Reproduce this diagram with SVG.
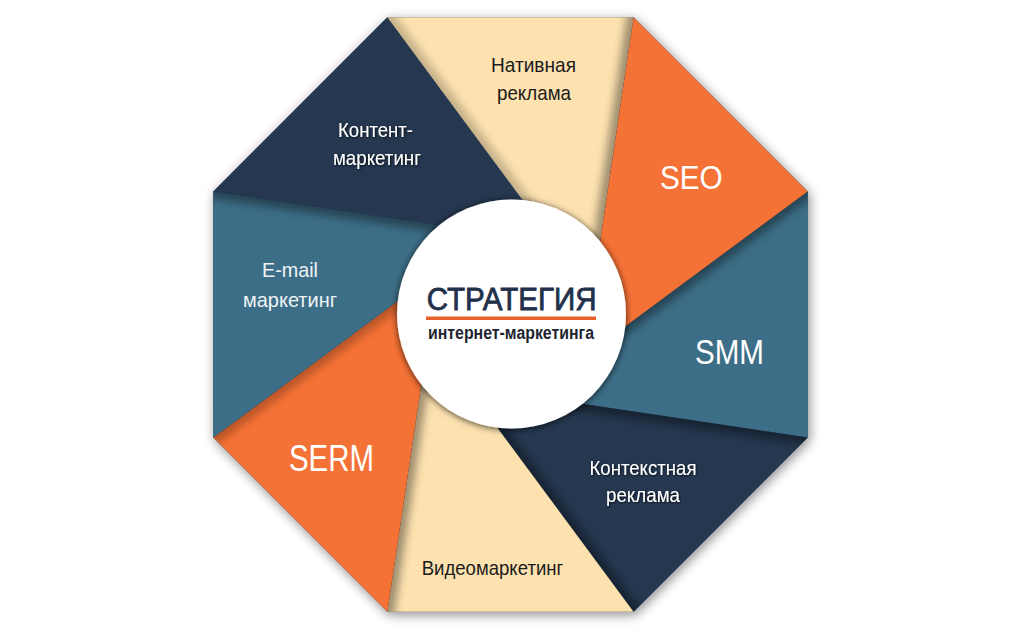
<svg xmlns="http://www.w3.org/2000/svg" width="1024" height="632" viewBox="0 0 1024 632">
<defs>
<style>
.lbl{font-family:"Liberation Sans",Arial,sans-serif;text-anchor:middle}
.sm{font-size:21px}
.big{font-size:35px}
.w{fill:#ffffff}
.d{fill:#1b1b1b}
.nv{fill:#253850}
.tl{fill:#3D6E87}
.or{fill:#F57236}
.bg{fill:#FDE2B0}
.sh{stroke:#000;stroke-width:14;stroke-linecap:round;opacity:0.38;fill:none}
</style>
<filter id="octShadow" filterUnits="userSpaceOnUse" x="0" y="0" width="1024" height="632">
<feDropShadow dx="2" dy="3" stdDeviation="6" flood-color="#000" flood-opacity="0.45"/>
</filter>
<filter id="blur" filterUnits="userSpaceOnUse" x="0" y="0" width="1024" height="632">
<feGaussianBlur stdDeviation="4.5"/>
</filter>
<filter id="circShadow" filterUnits="userSpaceOnUse" x="0" y="0" width="1024" height="632">
<feDropShadow dx="0" dy="1" stdDeviation="3.5" flood-color="#000" flood-opacity="0.75"/>
</filter>
<filter id="txtShadow" x="-10%" y="-30%" width="120%" height="160%">
<feDropShadow dx="0.8" dy="0.8" stdDeviation="0.8" flood-color="#000" flood-opacity="0.85"/>
</filter>
<clipPath id="cSMM"><polygon points="807.7,191.4 807.7,437.6 530.9,396.2"/></clipPath>
<clipPath id="cKR"><polygon points="807.7,437.6 633.6,611.7 467.1,386.7"/></clipPath>
<clipPath id="cVM"><polygon points="633.6,611.7 387.4,611.7 428.8,334.9"/></clipPath>
<clipPath id="cSERM"><polygon points="387.4,611.7 213.3,437.6 438.3,271.1"/></clipPath>
<clipPath id="cEM"><polygon points="213.3,437.6 213.3,191.4 490.1,232.8"/></clipPath>
<clipPath id="cNR"><polygon points="387.4,17.3 633.6,17.3 592.2,294.1"/></clipPath>
</defs>
<rect x="0" y="0" width="1024" height="632" fill="#ffffff"/>

<g id="octagon-base">
<polygon points="387.4,17.3 633.6,17.3 807.7,191.4 807.7,437.6 633.6,611.7 387.4,611.7 213.3,437.6 213.3,191.4" fill="#253850" filter="url(#octShadow)"/>
</g>

<g id="seg-smm">
<polygon class="tl" points="807.7,191.4 807.7,437.6 530.9,396.2"/>
</g>
<g id="seg-kontekst">
<polygon class="nv" points="807.7,437.6 633.6,611.7 467.1,386.7"/>
</g>
<g id="seg-video">
<polygon class="bg" points="633.6,611.7 387.4,611.7 428.8,334.9"/>
</g>
<g id="seg-serm">
<polygon class="or" points="387.4,611.7 213.3,437.6 438.3,271.1"/>
</g>
<g id="seg-email">
<polygon class="tl" points="213.3,437.6 213.3,191.4 490.1,232.8"/>
</g>
<g id="seg-kontent">
<polygon class="nv" points="213.3,191.4 387.4,17.3 553.9,242.3"/>
</g>
<g id="seg-native">
<polygon class="bg" points="387.4,17.3 633.6,17.3 592.2,294.1"/>
</g>
<g id="seg-seo">
<polygon class="or" points="633.6,17.3 807.7,191.4 582.7,357.9"/>
</g>

<g id="seg-shadows">
<g clip-path="url(#cNR)"><line class="sh" x1="633.6" y1="17.3" x2="589.3" y2="314.0" filter="url(#blur)"/></g>
<g clip-path="url(#cNR)"><line class="sh" x1="387.4" y1="17.3" x2="565.8" y2="258.5" filter="url(#blur)" style="opacity:0.22"/></g>
<g clip-path="url(#cSMM)"><line class="sh" x1="807.7" y1="191.4" x2="566.5" y2="369.8" filter="url(#blur)"/></g>
<g clip-path="url(#cKR)"><line class="sh" x1="807.7" y1="437.6" x2="511.0" y2="393.3" filter="url(#blur)"/></g>
<g clip-path="url(#cKR)"><line class="sh" x1="633.6" y1="611.7" x2="455.2" y2="370.5" filter="url(#blur)"/></g>
<g clip-path="url(#cVM)"><line class="sh" x1="387.4" y1="611.7" x2="431.7" y2="315.0" filter="url(#blur)"/></g>
<g clip-path="url(#cSERM)"><line class="sh" x1="213.3" y1="437.6" x2="454.5" y2="259.2" filter="url(#blur)" style="opacity:0.25"/></g>
<g clip-path="url(#cEM)"><line class="sh" x1="213.3" y1="191.4" x2="510.0" y2="235.7" filter="url(#blur)"/></g>
</g>

<g id="labels">
<text class="lbl sm d" x="533.5" y="72" textLength="85" lengthAdjust="spacingAndGlyphs">Нативная</text>
<text class="lbl sm d" x="534" y="100" textLength="74" lengthAdjust="spacingAndGlyphs">реклама</text>
<g filter="url(#txtShadow)">
<text class="lbl sm w" x="375.5" y="137" textLength="75" lengthAdjust="spacingAndGlyphs">Контент-</text>
<text class="lbl sm w" x="377" y="165" textLength="88" lengthAdjust="spacingAndGlyphs">маркетинг</text>
<text class="lbl sm w" x="643" y="475" textLength="107" lengthAdjust="spacingAndGlyphs">Контекстная</text>
<text class="lbl sm w" x="643" y="501.5" textLength="74" lengthAdjust="spacingAndGlyphs">реклама</text>
</g>
<text class="lbl sm" fill="#EEF3F6" x="290" y="277" textLength="56" lengthAdjust="spacingAndGlyphs">E-mail</text>
<text class="lbl sm" fill="#EEF3F6" x="290" y="306.5" textLength="94" lengthAdjust="spacingAndGlyphs">маркетинг</text>
<text class="lbl sm d" x="492.5" y="575" textLength="141.6" lengthAdjust="spacingAndGlyphs">Видеомаркетинг</text>
<text class="lbl big w" x="691.3" y="189" textLength="62.7" lengthAdjust="spacingAndGlyphs" style="font-size:33px">SEO</text>
<text class="lbl big w" x="729.5" y="364" textLength="69" lengthAdjust="spacingAndGlyphs">SMM</text>
<text class="lbl big w" x="331.5" y="470.5" textLength="85" lengthAdjust="spacingAndGlyphs" style="font-size:36px">SERM</text>
</g>

<g id="center">
<circle cx="511.5" cy="314" r="114.5" fill="#ffffff" filter="url(#circShadow)"/>
<text class="lbl" x="511.7" y="310" fill="#22304A" stroke="#22304A" stroke-width="0.8" style="font-size:32px" textLength="170" lengthAdjust="spacingAndGlyphs">СТРАТЕГИЯ</text>
<rect x="426" y="316.5" width="170" height="3.5" fill="#E8612C"/>
<text class="lbl" x="511" y="338.5" fill="#1E2530" style="font-size:17.5px;font-weight:bold" textLength="166" lengthAdjust="spacingAndGlyphs">интернет-маркетинга</text>
</g>
</svg>
